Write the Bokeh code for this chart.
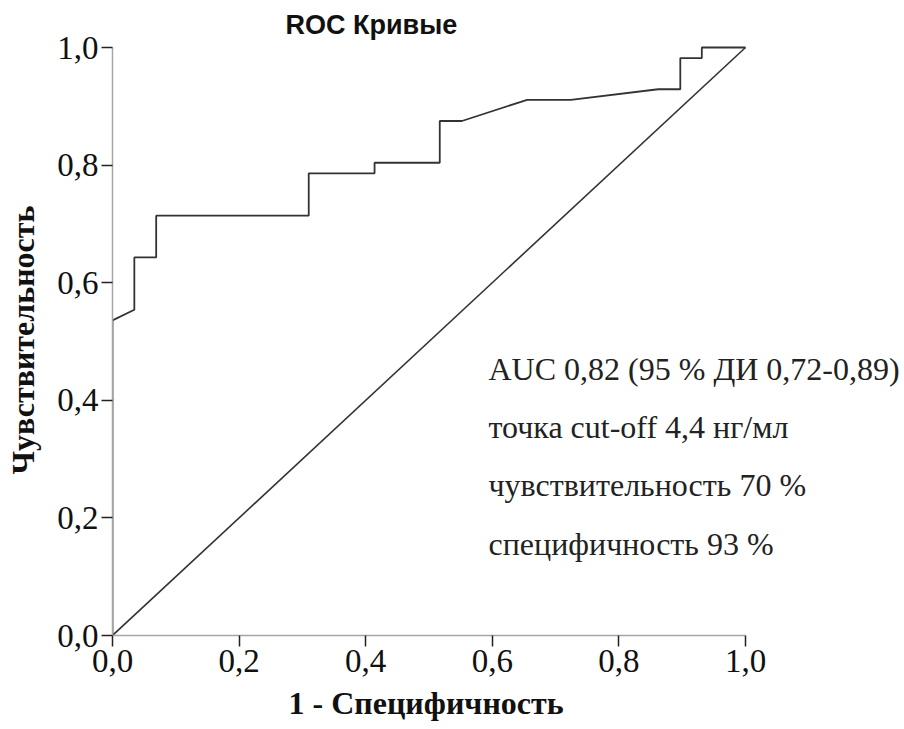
from bokeh.plotting import figure
from bokeh.models import Range1d, Label, FixedTicker, Title
from bokeh.embed import file_html
from bokeh.resources import INLINE

# ROC curve: false positive rate (1 - specificity) vs sensitivity
fpr = [0.0, 0.0, 0.0345, 0.0345, 0.069, 0.069, 0.310, 0.310, 0.414, 0.414,
       0.517, 0.517, 0.552, 0.655, 0.724, 0.862, 0.897, 0.897, 0.931, 0.931, 1.0]
tpr = [0.0, 0.536, 0.554, 0.643, 0.643, 0.714, 0.714, 0.786, 0.786, 0.804,
       0.804, 0.875, 0.875, 0.911, 0.911, 0.929, 0.929, 0.982, 0.982, 1.0, 1.0]

# reference (chance) line
ref_x = [0.0, 1.0]
ref_y = [0.0, 1.0]

tick_values = [0.0, 0.2, 0.4, 0.6, 0.8, 1.0]
tick_labels = ["0,0", "0,2", "0,4", "0,6", "0,8", "1,0"]

summary_lines = [
    "AUC 0,82 (95 % ДИ 0,72-0,89)",
    "точка cut-off 4,4 нг/мл",
    "чувствительность 70 %",
    "специфичность 93 %",
]

# frame geometry: 633 px per unit along x, 588 px per unit along y
LEFT, RIGHT, TOP, BOTTOM = 112, 4, 44, 94
W, H = 904, 729
x_end = (W - LEFT - RIGHT) / 633.0
y_end = (H - TOP - BOTTOM) / 588.0

p = figure(
    width=W, height=H,
    x_range=Range1d(0, x_end), y_range=Range1d(0, y_end),
    output_backend="svg", toolbar_location=None,
    min_border_left=LEFT, min_border_right=RIGHT,
    min_border_top=TOP, min_border_bottom=BOTTOM,
)
p.background_fill_color = "white"
p.border_fill_color = "white"
p.outline_line_color = None
p.grid.visible = False

p.title.text = "ROC Кривые"
p.title.align = "left"
p.title.offset = 173
p.title.text_font = "Liberation Sans"
p.title.text_font_style = "bold"
p.title.text_font_size = "27px"
p.title.text_color = "#111111"

for ax in (p.xaxis[0], p.yaxis[0]):
    ax.bounds = (0, 1)
    ax.ticker = FixedTicker(ticks=tick_values)
    ax.major_label_overrides = {v: l for v, l in zip(tick_values, tick_labels)}
    ax.minor_tick_line_color = None
    ax.axis_line_color = "#a6a6a6"
    ax.axis_line_width = 1.5
    ax.major_tick_line_color = "#222222"
    ax.major_tick_line_width = 1.5
    ax.major_tick_in = 0
    ax.major_tick_out = 11
    ax.major_label_standoff = 3
    ax.major_label_text_font = "Liberation Serif"
    ax.major_label_text_font_size = "33px"
    ax.major_label_text_color = "#111111"

p.yaxis.axis_label = "Чувствительность"
p.yaxis.axis_label_text_font = "Liberation Serif"
p.yaxis.axis_label_text_font_style = "bold"
p.yaxis.axis_label_text_font_size = "32px"
p.yaxis.axis_label_text_color = "#111111"
p.yaxis.axis_label_standoff = 13
p.yaxis.major_label_orientation = "horizontal"

# x-axis caption, centred under the 0..1 span of the axis
x_caption = Title(
    text="1 - Специфичность", align="left", offset=176, standoff=16,
    text_font="Liberation Serif", text_font_style="bold",
    text_font_size="32px", text_color="#111111",
)
p.add_layout(x_caption, "below")

p.line(ref_x, ref_y, line_color="#333333", line_width=1.6)
p.line(fpr, tpr, line_color="#333333", line_width=1.8)

# summary statistics block
text_x = 0.594
text_y0 = 0.454
line_step = 0.0992
for i, s in enumerate(summary_lines):
    p.add_layout(Label(
        x=text_x, y=text_y0 - i * line_step, text=s,
        text_font="Liberation Serif", text_font_size="32px",
        text_color="#222222", text_baseline="alphabetic",
    ))

open("out.html", "w").write(file_html(p, INLINE))
